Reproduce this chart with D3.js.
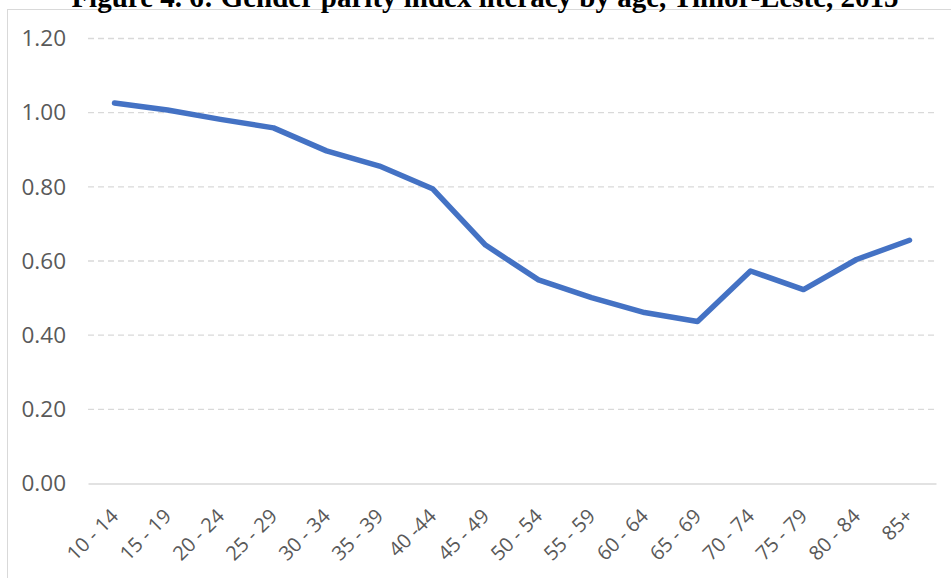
<!DOCTYPE html>
<html><head><meta charset="utf-8">
<script src="https://cdn.jsdelivr.net/npm/d3@7"></script>
<style>body{margin:0;background:#fff}svg{display:block}</style>
</head><body><svg id="c" width="951" height="578"></svg>
<script>
const categories = ["10 - 14","15 - 19","20 - 24","25 - 29","30 - 34","35 - 39","40 -44","45 - 49","50 - 54","55 - 59","60 - 64","65 - 69","70 - 74","75 - 79","80 - 84","85+"];
const gpi = [1.026,1.007,0.982,0.959,0.897,0.856,0.795,0.643,0.549,0.501,0.461,0.437,0.573,0.523,0.604,0.656];
const yTicks = [0,0.2,0.4,0.6,0.8,1.0,1.2];
const title = "Figure 4. 6: Gender parity index literacy by age, Timor-Leste, 2015";

const svg = d3.select("#c");
const m = {left:88, right:936, top:38.5, bottom:483.5};
svg.append("rect").attr("x",7.5).attr("y",9.5).attr("width",960).attr("height",600)
  .attr("fill","none").attr("stroke","#d9d9d9");
svg.append("text").attr("x",485).attr("y",6.5).attr("text-anchor","middle")
  .attr("font-family","Liberation Serif").attr("font-weight","bold").attr("font-size",29)
  .attr("fill","#000").text(title);

const x = d3.scaleBand().domain(categories).range([m.left,m.right]);
const y = d3.scaleLinear().domain([0,1.2]).range([m.bottom,m.top]);

svg.append("g").selectAll("line").data(yTicks.filter(d=>d>0)).join("line")
  .attr("x1",m.left).attr("x2",m.right).attr("y1",d=>y(d)).attr("y2",d=>y(d))
  .attr("stroke","#d9d9d9").attr("stroke-width",1.3).attr("stroke-dasharray","6,4");

const ya = svg.append("g").attr("transform",`translate(${m.left},0)`)
  .call(d3.axisLeft(y).tickValues(yTicks).tickFormat(d3.format(".2f")).tickSize(0).tickPadding(22));
ya.select(".domain").remove();
ya.selectAll("text").attr("font-family","Open Sans").attr("font-size",22.5).attr("fill","#595959");

const xa = svg.append("g").attr("transform",`translate(0,${m.bottom})`)
  .call(d3.axisBottom(x).tickSize(0).tickPadding(0));
xa.select(".domain").attr("stroke","#d9d9d9").attr("stroke-width",1.5);
xa.selectAll("text").attr("font-family","Open Sans").attr("font-size",20).attr("fill","#595959")
  .attr("text-anchor","end").attr("dy",0)
  .attr("transform","translate(5,34) rotate(-45)");

const line = d3.line().x((d,i)=>x(categories[i])+x.bandwidth()/2).y(d=>y(d));
svg.append("path").datum(gpi).attr("d",line).attr("fill","none")
  .attr("stroke","#4472c4").attr("stroke-width",5.5).attr("stroke-linecap","round").attr("stroke-linejoin","round");
</script></body></html>
